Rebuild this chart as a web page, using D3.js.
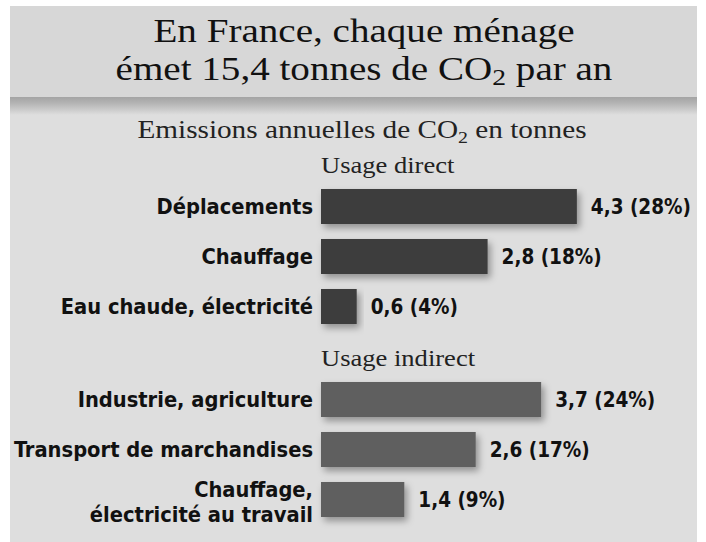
<!DOCTYPE html>
<html><head><meta charset="utf-8">
<script src="https://cdn.jsdelivr.net/npm/d3@7"></script>
<style>body{margin:0;background:#fff}svg{display:block}</style>
</head><body>
<svg id="c" width="706" height="542"></svg>
<script>
const titleLines = ["En France, chaque ménage", "émet 15,4 tonnes de CO|2| par an"];
const subtitle = "Emissions annuelles de CO|2| en tonnes";
const groups = ["Usage direct", "Usage indirect"];
const directCats = ["Déplacements", "Chauffage", "Eau chaude, électricité"];
const directVals = [4.3, 2.8, 0.6];
const directPct = [28, 18, 4];
const indirectCats = ["Industrie, agriculture", "Transport de marchandises", "Chauffage,\nélectricité au travail"];
const indirectVals = [3.7, 2.6, 1.4];
const indirectPct = [24, 17, 9];

const svg = d3.select("#c");
const W = 706, H = 542;
const defs = svg.append("defs");
const g1 = defs.append("linearGradient").attr("id","stripe").attr("x1",0).attr("x2",0).attr("y1",0).attr("y2",1);
g1.append("stop").attr("offset","0%").attr("stop-color","#a4a4a4");
g1.append("stop").attr("offset","35%").attr("stop-color","#b4b4b4");
g1.append("stop").attr("offset","100%").attr("stop-color","#dedede");
const f = defs.append("filter").attr("id","sh").attr("x","-10%").attr("y","-30%").attr("width","130%").attr("height","170%");
f.append("feDropShadow").attr("dx",3).attr("dy",4).attr("stdDeviation",3.5).attr("flood-color","#000").attr("flood-opacity",0.35);

svg.append("rect").attr("x",0).attr("y",0).attr("width",W).attr("height",H).attr("fill","#fff");
svg.append("rect").attr("x",10).attr("y",6).attr("width",687).attr("height",H-6).attr("fill","#dedede");
svg.append("rect").attr("x",10).attr("y",6).attr("width",687).attr("height",91).attr("fill","#d7d7d7");
svg.append("rect").attr("x",10).attr("y",97).attr("width",687).attr("height",18).attr("fill","url(#stripe)");

function richText(sel, str, subSize){
  str.split("|").forEach((part,i)=>{
    if(i%2===1){
      sel.append("tspan").attr("font-size",subSize).attr("dy",5).text(part);
    } else if(i>0){
      sel.append("tspan").attr("dy",-5).text(part);
    } else sel.append("tspan").text(part);
  });
}
const serif = "'Liberation Serif','DejaVu Serif',serif";
const sans = "'DejaVu Sans Condensed','Liberation Sans Narrow',sans-serif";

[42, 80].forEach((y,i)=>{
  const t = svg.append("text").attr("transform",`translate(364,${y}) scale(1.15,1)`).attr("text-anchor","middle")
    .attr("font-family",serif).attr("font-size",34).attr("fill","#111");
  richText(t, titleLines[i], 24);
});
const st = svg.append("text").attr("transform","translate(362,138) scale(1.17,1)").attr("text-anchor","middle")
  .attr("font-family",serif).attr("font-size",25).attr("fill","#222");
richText(st, subtitle, 17);

const x = d3.scaleLinear().domain([0,5]).range([321, 321+297.5]);
const yD = d3.scaleBand().domain(directCats).range([181.5,331.5]).paddingInner(0.3).paddingOuter(0.15);
const yI = d3.scaleBand().domain(indirectCats).range([374.5,524.5]).paddingInner(0.3).paddingOuter(0.15);

const sets = [
  {cats:directCats, vals:directVals, pct:directPct, y:yD, color:"#3e3e3e", head:groups[0], hy:173},
  {cats:indirectCats, vals:indirectVals, pct:indirectPct, y:yI, color:"#5e5e5e", head:groups[1], hy:366}
];
sets.forEach(s=>{
  svg.append("text").attr("transform",`translate(${x(0)},${s.hy}) scale(1.155,1)`).attr("font-family",serif).attr("font-size",23).attr("fill","#222").text(s.head);
  const data = s.cats.map((c,i)=>({c, v:s.vals[i], p:s.pct[i]}));
  const g = svg.append("g");
  g.selectAll("rect").data(data).join("rect")
    .attr("x",x(0)).attr("y",d=>s.y(d.c)).attr("width",d=>x(d.v)-x(0)).attr("height",s.y.bandwidth())
    .attr("fill",s.color).attr("filter","url(#sh)");
  g.selectAll("text.v").data(data).join("text").attr("class","v")
    .attr("x",d=>x(d.v)+14).attr("y",d=>s.y(d.c)+s.y.bandwidth()/2+7)
    .attr("font-family",sans).attr("font-weight","bold").attr("font-size",20.5).attr("fill","#111")
    .text(d=>d3.format(".1f")(d.v).replace(".",",")+" ("+d.p+"%)");
  g.selectAll("text.l").data(data).join("text").attr("class","l")
    .attr("x",x(0)-8).attr("text-anchor","end")
    .attr("font-family",sans).attr("font-weight","bold").attr("font-size",21.7).attr("fill","#111")
    .each(function(d){
      const lines = d.c.split("\n");
      const cy = s.y(d.c)+s.y.bandwidth()/2+7 + (lines.length>1?3:0);
      const t = d3.select(this);
      lines.forEach((ln,k)=>{
        t.append("tspan").attr("x",x(0)-8).attr("y",cy+(k-(lines.length-1)/2)*25).text(ln);
      });
    });
});
</script>
</body></html>
